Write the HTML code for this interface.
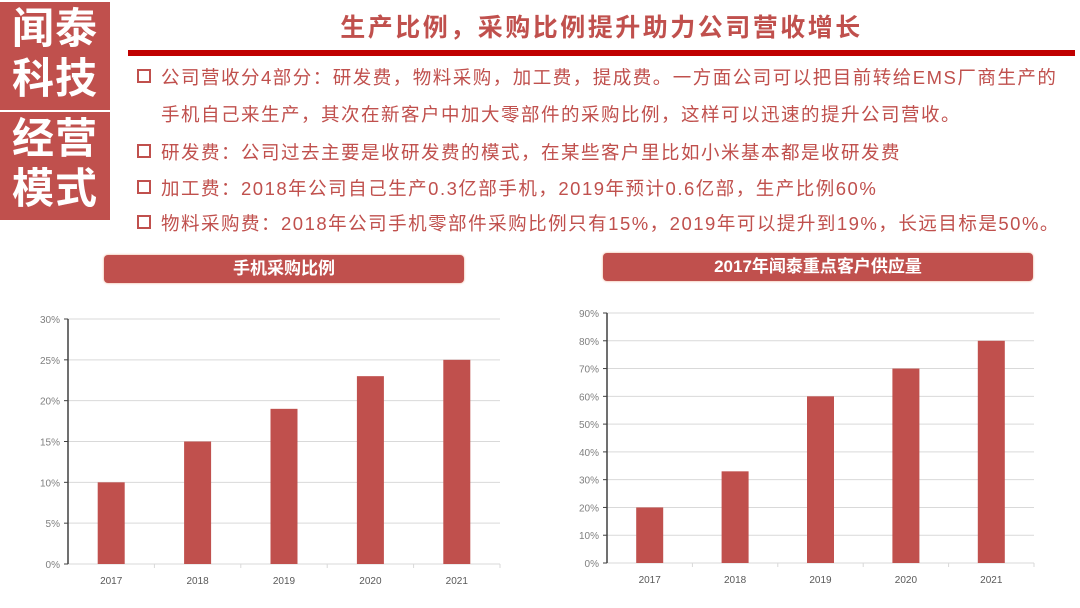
<!DOCTYPE html>
<html><head><meta charset="utf-8"><style>
body{margin:0;width:1080px;height:608px;background:#fff;position:relative;overflow:hidden;font-family:"Liberation Sans","Noto Sans CJK SC",sans-serif}
.blk{position:absolute;left:0;width:110px;background:#c0504d;color:#fff;font-weight:bold;font-size:42px;line-height:50px;text-align:center;letter-spacing:1px}
.title{position:absolute;left:128px;width:947px;top:8px;text-align:center;color:#c0504d;font-weight:bold;font-size:25px;letter-spacing:2.5px}
.rule{position:absolute;left:128px;top:50px;width:947px;height:6px;background:#c00000}
.bl{position:absolute;left:137px;font-size:18.5px;color:#c0504d;white-space:nowrap;letter-spacing:1.5px}
.bl .sq{display:inline-block;width:10px;height:10px;border:2px solid #c0504d;margin-right:10px;vertical-align:1px}
.ban{position:absolute;background:#c0504d;color:#fff;font-weight:bold;font-size:17px;text-align:center;border-radius:4px;line-height:28px;box-shadow:0 0 2px #e8a080}
</style></head><body>
<div class="blk" style="top:2px;height:106px;padding-top:2px">闻泰<br>科技</div>
<div class="blk" style="top:112px;height:106px;padding-top:2px">经营<br>模式</div>
<div class="title">生产比例，采购比例提升助力公司营收增长</div>
<div class="rule"></div>
<div class="bl" style="top:64px"><span class="sq"></span>公司营收分4部分：研发费，物料采购，加工费，提成费。一方面公司可以把目前转给EMS厂商生产的</div>
<div class="bl" style="top:101px;left:161px">手机自己来生产，其次在新客户中加大零部件的采购比例，这样可以迅速的提升公司营收。</div>
<div class="bl" style="top:139px"><span class="sq"></span>研发费：公司过去主要是收研发费的模式，在某些客户里比如小米基本都是收研发费</div>
<div class="bl" style="top:175px"><span class="sq"></span>加工费：2018年公司自己生产0.3亿部手机，2019年预计0.6亿部，生产比例60%</div>
<div class="bl" style="top:210px"><span class="sq"></span>物料采购费：2018年公司手机零部件采购比例只有15%，2019年可以提升到19%，长远目标是50%。</div>
<div class="ban" style="left:104px;top:255px;width:360px;height:28px">手机采购比例</div>
<div class="ban" style="left:603px;top:253px;width:430px;height:28px">2017年闻泰重点客户供应量</div>
<svg id="svg" width="1080" height="608" style="position:absolute;left:0;top:0"></svg>
<script>
const categories1=["2017","2018","2019","2020","2021"];
const values1=[10,15,19,23,25];
const ticks1=[0,5,10,15,20,25,30];
const categories2=["2017","2018","2019","2020","2021"];
const values2=[20,33,60,70,80];
const ticks2=[0,10,20,30,40,50,60,70,80,90];
const svg=document.getElementById('svg');
const NS='http://www.w3.org/2000/svg';
function mk(t,a){const e=document.createElementNS(NS,t);for(const k in a)e.setAttribute(k,a[k]);svg.appendChild(e);return e;}
function chart(id,cats,vals,ticks,x0,x1,y0,y1,max,bw){
  const band=(x1-x0)/cats.length;
  const xs=i=>x0+band*(i+0.5);
  const ys=v=>y0-(v/max)*(y0-y1);
  ticks.forEach(t=>{
    const g=mk('line',{x1:x0,x2:x1,y1:ys(t),y2:ys(t),stroke:'#d9d9d9','stroke-width':1});
    
    
    const l=mk('text',{x:x0-8,y:ys(t)+4,'text-anchor':'end','font-size':10,fill:'#7f7f7f','font-family':'Liberation Sans, sans-serif'});
    l.textContent=t+'%';
    
    
    mk('line',{x1:x0-4,x2:x0,y1:ys(t),y2:ys(t),stroke:'#404040'});
  });
  const ax=mk('line',{x1:x0,x2:x0,y1:y0,y2:ys(max),stroke:'#404040','stroke-width':1.5});
  
  
  cats.forEach((c,i)=>{
    const b=mk('rect',{x:xs(i)-bw/2,y:ys(vals[i]),width:bw,height:y0-ys(vals[i]),fill:'#c0504d'});
    
    
    const t=mk('text',{x:xs(i),y:y0+20,'text-anchor':'middle','font-size':10,fill:'#595959','font-family':'Liberation Sans, sans-serif'});
    t.textContent=c;
    
    
    mk('line',{x1:x0+band*(i+1),x2:x0+band*(i+1),y1:y0,y2:y0+4,stroke:'#d9d9d9'});
  });
}
chart('chart1',categories1,values1,ticks1,68,500,564,319,30,27);
chart('chart2',categories2,values2,ticks2,607,1034,563,313,90,27);
</script>
</body></html>
